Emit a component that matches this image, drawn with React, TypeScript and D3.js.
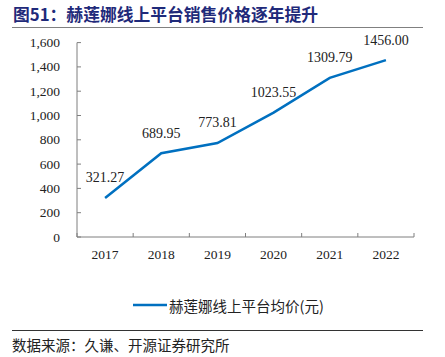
import React from "react";
import * as d3 from "d3";

const years = ["2017", "2018", "2019", "2020", "2021", "2022"];
const prices = [321.27, 689.95, 773.81, 1023.55, 1309.79, 1456.0];
const yTicks = [0, 200, 400, 600, 800, 1000, 1200, 1400, 1600];
const title = "图51：赫莲娜线上平台销售价格逐年提升";
const seriesName = "赫莲娜线上平台均价(元)";
const source = "数据来源：久谦、开源证券研究所";

export default function App() {
  const W = 445, H = 357;
  const x = d3.scaleBand<string>().domain(years).range([77, 414]);
  const y = d3.scaleLinear().domain([0, 1600]).range([237, 42.6]);
  const cx = (d: string) => (x(d) as number) + x.bandwidth() / 2;
  const line = d3
    .line<number>()
    .x((_, i) => cx(years[i]))
    .y((d) => y(d));
  const fmt = d3.format(",");
  const serif = "'Liberation Serif', 'Times New Roman', serif";
  const cjk = "'Noto Sans CJK SC', sans-serif";
  const axisColor = "#7f7f7f";
  return (
    <svg
      width={W}
      height={H}
      style={{ position: "absolute", left: 0, top: 0, background: "#fff" }}
    >
      <text
        x={13}
        y={21}
        fontFamily={cjk}
        fontWeight="bold"
        fontSize={16.8}
        fill="#1f2a7a"
      >
        {title}
      </text>
      <line x1={12} x2={423} y1={27.5} y2={27.5} stroke="#808080" strokeWidth={1.2} />
      {/* y axis */}
      <line x1={77} x2={77} y1={y(1600)} y2={y(0)} stroke={axisColor} strokeWidth={1} />
      {yTicks.map((t) => (
        <g key={t}>
          <line x1={77} x2={81} y1={y(t)} y2={y(t)} stroke={axisColor} />
          <text
            x={60}
            y={y(t)}
            textAnchor="end"
            dominantBaseline="central"
            fontFamily={serif}
            fontSize={13.5}
            fill="#222"
          >
            {fmt(t)}
          </text>
        </g>
      ))}
      {/* x axis */}
      <line x1={77} x2={414} y1={y(0)} y2={y(0)} stroke={axisColor} strokeWidth={1} />
      {[...years.map((d) => x(d) as number), 414].map((v, i) => (
        <line key={i} x1={v} x2={v} y1={y(0)} y2={y(0) - 4} stroke={axisColor} />
      ))}
      {years.map((d) => (
        <text
          key={d}
          x={cx(d)}
          y={254}
          textAnchor="middle"
          dominantBaseline="central"
          fontFamily={serif}
          fontSize={13.5}
          fill="#222"
        >
          {d}
        </text>
      ))}
      <path d={line(prices) || ""} fill="none" stroke="#0070c0" strokeWidth={2.5} />
      {prices.map((p, i) => (
        <text
          key={i}
          x={cx(years[i])}
          y={y(p) - 20}
          textAnchor="middle"
          dominantBaseline="central"
          fontFamily={serif}
          fontSize={14}
          fill="#222"
        >
          {p.toFixed(2)}
        </text>
      ))}
      {/* legend */}
      <line x1={133} x2={167} y1={305} y2={305} stroke="#0070c0" strokeWidth={2.5} />
      <text x={169} y={305} dominantBaseline="central" fontFamily={cjk} fontSize={14.5} fill="#222">
        {seriesName}
      </text>
      <line x1={12} x2={423} y1={330.5} y2={330.5} stroke="#333" strokeWidth={1} />
      <text x={12} y={344} dominantBaseline="central" fontFamily={cjk} fontSize={14.5} fill="#222">
        {source}
      </text>
    </svg>
  );
}
